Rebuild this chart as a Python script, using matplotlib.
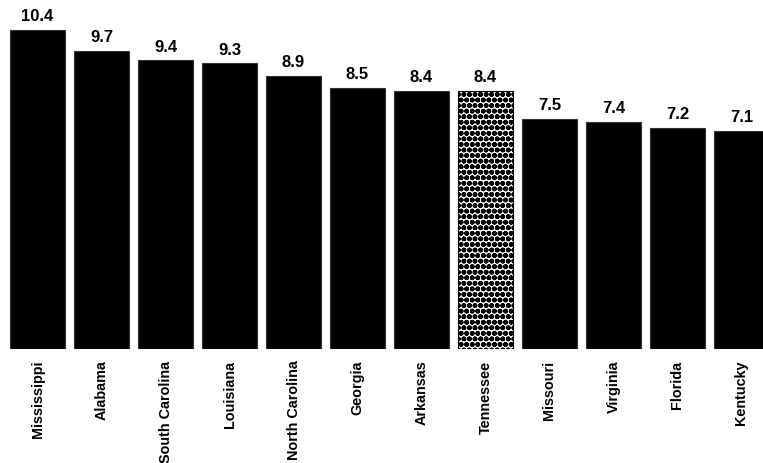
import matplotlib.pyplot as plt

plt.rcParams['font.family'] = ['Liberation Sans', 'DejaVu Sans']
plt.rcParams['hatch.linewidth'] = 1.8

states = ["Mississippi", "Alabama", "South Carolina", "Louisiana", "North Carolina",
          "Georgia", "Arkansas", "Tennessee", "Missouri", "Virginia", "Florida", "Kentucky"]
rates = [10.4, 9.7, 9.4, 9.3, 8.9, 8.5, 8.4, 8.4, 7.5, 7.4, 7.2, 7.1]
highlight = "Tennessee"

fig = plt.figure(figsize=(7.63, 4.64), dpi=100)
ax = fig.add_axes([0, 0.2457, 1, 0.7543])

x = range(len(states))
bars = ax.bar(x, rates, width=0.86, color="black", edgecolor="#333333", linewidth=0.8)
for b, s in zip(bars, states):
    if s == highlight:
        b.set_facecolor("white")
        b.set_hatch("ooo")
        b.set_edgecolor("black")

for i, v in zip(x, rates):
    ax.text(i, v + 0.22, f"{v}", ha="center", va="bottom", fontsize=12, fontweight="bold")

ax.set_xlim(-0.586, 11.336)
ax.set_ylim(0, 11.4)
ax.set_xticks(list(x))
ax.set_xticklabels(states, rotation=90, fontsize=10.4, fontweight="bold")
ax.tick_params(axis="x", length=0, pad=7.5)
ax.set_yticks([])
for sp in ax.spines.values():
    sp.set_visible(False)

fig.savefig("out.png", dpi=100)
